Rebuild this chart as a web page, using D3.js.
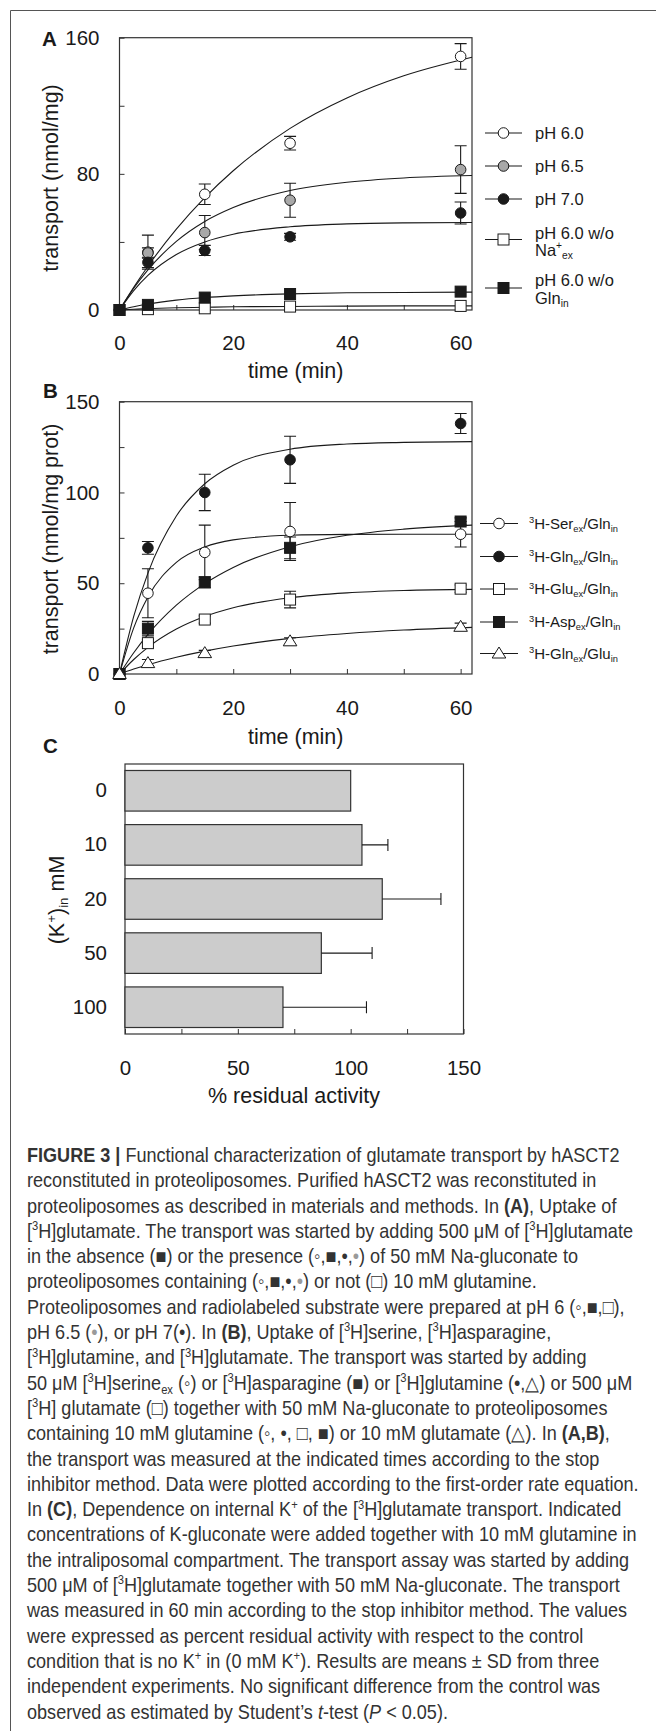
<!DOCTYPE html>
<html>
<head>
<meta charset="utf-8">
<title>Figure 3</title>
<script src="https://cdn.jsdelivr.net/npm/d3@7"></script>
<style>
body{margin:0;background:#fff;}
svg text{font-family:"Liberation Sans",Arial,sans-serif;white-space:pre;}
</style>
</head>
<body>
<script>
// ---- panel A : glutamate uptake at different pH ----
var timeA = [0, 5, 15, 30, 60];
var ph60 = [0, 34, 68, 98, 149];
var ph60Err = [0, 10, 6, 4, 7.5];
var ph65 = [0, 33.5, 45.5, 64.5, 82.5];
var ph65Err = [0, 3, 10, 10, 14];
var ph70 = [0, 28, 35, 43, 57];
var ph70Err = [0, 3, 3, 2, 6.5];
var ph60NoNa = [0, 0.5, 1, 2, 2.4];
var ph60NoGln = [0, 3, 7.3, 9.4, 10.8];

// fitted curves
var fitT = [0, 2.5, 5, 10, 15, 20, 30, 40, 50, 62];
var fitPh60 = [0, 13.3, 25.7, 47.5, 66, 81.8, 106.7, 124.6, 137.6, 148.5];
var fitPh65 = [0, 12.8, 23.6, 40.3, 52, 60.2, 70.2, 75.1, 77.6, 79];
var fitPh70 = [0, 11.4, 20.3, 32.6, 40, 44.5, 48.9, 50.6, 51.2, 51.4];
var fitNoNa = [0, 0.4, 0.8, 1.3, 1.6, 1.9, 2.1, 2.3, 2.4, 2.4];
var fitNoGln = [0, 1.9, 3.5, 5.8, 7.3, 8.3, 9.5, 10.1, 10.3, 10.5];

// ---- panel B : uptake of different substrates ----
var timeB = [0, 5, 15, 30, 60];
var serB = [0, 44.5, 67, 78.5, 77];
var serErr = [0, 13.5, 15, 16, 7];
var glnB = [0, 69.5, 100, 118, 138];
var glnErr = [0, 3.5, 10, 13, 5.5];
var gluB = [0, 17, 30, 41, 47];
var gluErr = [0, 2, 2, 4.6, 2];
var aspB = [0, 25, 50.5, 69.5, 84];
var aspErr = [0, 4, 3, 6, 2];
var glnGluB = [0, 6, 11.5, 18, 26];
var glnGluErr = [0, 2, 1.5, 2, 2];

var fitSer = [0, 25.4, 42.4, 61.5, 70, 73.9, 76.4, 76.9, 77, 77];
var fitGln = [0, 31.7, 55.6, 87, 104.8, 115, 123.8, 126.7, 127.6, 128];
var fitGlu = [0, 8, 14.7, 24.8, 31.7, 36.5, 42, 44.7, 46, 46.6];
var fitAsp = [0, 11.7, 21.8, 37.9, 49.8, 58.7, 70.1, 76.4, 79.8, 82];
var fitGlnGlu = [0, 2.7, 5.1, 9.2, 12.6, 15.4, 19.6, 22.3, 24.2, 25.7];

// ---- panel C : internal K+ ----
var kConc = ["0", "10", "20", "50", "100"];
var residual = [100, 105, 114, 87, 70];
var residualErr = [0, 11.5, 26, 22.5, 37];

var captionLines = [
  "<b>FIGURE 3 |</b> Functional characterization of glutamate transport by hASCT2",
  "reconstituted in proteoliposomes. Purified hASCT2 was reconstituted in",
  "proteoliposomes as described in materials and methods. In <b>(A)</b>, Uptake of",
  "[<sup>3</sup>H]glutamate. The transport was started by adding 500 \u03bcM of [<sup>3</sup>H]glutamate",
  "in the absence (\u25a0) or the presence (\u25e6,\u25a0,\u2022,<g>\u2022</g>) of 50 mM Na-gluconate to",
  "proteoliposomes containing (\u25e6,\u25a0,\u2022,<g>\u2022</g>) or not (\u25a1) 10 mM glutamine.",
  "Proteoliposomes and radiolabeled substrate were prepared at pH 6 (\u25e6,\u25a0,\u25a1),",
  "pH 6.5 (<g>\u2022</g>), or pH 7(\u2022). In <b>(B)</b>, Uptake of [<sup>3</sup>H]serine, [<sup>3</sup>H]asparagine,",
  "[<sup>3</sup>H]glutamine, and [<sup>3</sup>H]glutamate. The transport was started by adding",
  "50 \u03bcM [<sup>3</sup>H]serine<sub>ex</sub> (\u25e6) or [<sup>3</sup>H]asparagine (\u25a0) or [<sup>3</sup>H]glutamine (\u2022,\u25b3) or 500 \u03bcM",
  "[<sup>3</sup>H] glutamate (\u25a1) together with 50 mM Na-gluconate to proteoliposomes",
  "containing 10 mM glutamine (\u25e6, \u2022, \u25a1, \u25a0) or 10 mM glutamate (\u25b3). In <b>(A,B)</b>,",
  "the transport was measured at the indicated times according to the stop",
  "inhibitor method. Data were plotted according to the first-order rate equation.",
  "In <b>(C)</b>, Dependence on internal K<sup>+</sup> of the [<sup>3</sup>H]glutamate transport. Indicated",
  "concentrations of K-gluconate were added together with 10 mM glutamine in",
  "the intraliposomal compartment. The transport assay was started by adding",
  "500 \u03bcM of [<sup>3</sup>H]glutamate together with 50 mM Na-gluconate. The transport",
  "was measured in 60 min according to the stop inhibitor method. The values",
  "were expressed as percent residual activity with respect to the control",
  "condition that is no K<sup>+</sup> in (0 mM K<sup>+</sup>). Results are means \u00b1 SD from three",
  "independent experiments. No significant difference from the control was",
  "observed as estimated by Student\u2019s <i>t</i>-test (<i>P</i> &lt; 0.05)."
];

var W = 656, H = 1731;
var ink = "#1a1a1a";
var svg = d3.select("body").append("svg").attr("width", W).attr("height", H);

// outer frame (left + top)
svg.append("path").attr("d", "M10.5," + H + "V10.5H" + W)
  .attr("fill", "none").attr("stroke", "#555").attr("stroke-width", 1);

// rich text: <b>, <i>, <sup>, <sub>, <g>(grey)
function addRich(text, str, base) {
  str = str.replace(/&lt;/g, "<");
  var parts = str.split(/(<\/?(?:b|i|sup|sub|g)>)/);
  var st = {b: 0, i: 0, sup: 0, sub: 0, g: 0}, cur = 0;
  parts.forEach(function(p) {
    var m = p.match(/^<(\/?)(b|i|sup|sub|g)>$/);
    if (m) { st[m[2]] = m[1] ? 0 : 1; return; }
    if (!p) return;
    var off = st.sup ? -base * 0.38 : (st.sub ? base * 0.2 : 0);
    var ts = text.append("tspan").text(p)
      .attr("dy", off - cur)
      .style("font-size", ((st.sup || st.sub) ? base * 0.62 : base) + "px");
    cur = off;
    if (st.b) ts.style("font-weight", "bold");
    if (st.i) ts.style("font-style", "italic");
    if (st.g) ts.style("fill", "#9a9a9a");
  });
  return text;
}

function marker(g, type, cx, cy) {
  var fill = {oc: "#fff", gc: "#a8a8a8", fc: ink, os: "#fff", fs: ink, ot: "#fff"}[type];
  if (type == "oc" || type == "gc" || type == "fc") {
    g.append("circle").attr("cx", cx).attr("cy", cy).attr("r", 5.3)
      .attr("fill", fill).attr("stroke", ink).attr("stroke-width", 1);
  } else if (type == "os" || type == "fs") {
    g.append("rect").attr("x", cx - 5.5).attr("y", cy - 5.5).attr("width", 11).attr("height", 11)
      .attr("fill", fill).attr("stroke", ink).attr("stroke-width", 1);
  } else {
    g.append("path").attr("d", "M" + cx + "," + (cy - 6.5) + "L" + (cx + 6.8) + "," + (cy + 4.5) + "L" + (cx - 6.8) + "," + (cy + 4.5) + "Z")
      .attr("fill", fill).attr("stroke", ink).attr("stroke-width", 1);
  }
}

var xT = d3.scaleLinear().domain([0, 62]).range([119.5, 472]);

function timePanel(y, yTicks, yLabels, series, legendX, labelPad) {
  var g = svg.append("g");
  var top = y.range()[1], bot = y.range()[0];
  g.append("rect").attr("x", xT.range()[0]).attr("y", top)
    .attr("width", xT.range()[1] - xT.range()[0]).attr("height", bot - top)
    .attr("fill", "none").attr("stroke", "#333").attr("stroke-width", 1.2);

  var ay = g.append("g").attr("transform", "translate(" + xT.range()[0] + ",0)")
    .call(d3.axisLeft(y).tickValues(yTicks).tickSize(-5).tickPadding(20)
      .tickFormat(function(d) { return yLabels.indexOf(d) >= 0 ? d : ""; }));
  var ax = g.append("g").attr("transform", "translate(0," + bot + ")")
    .call(d3.axisBottom(xT).tickValues([0, 10, 20, 30, 40, 50, 60]).tickSize(-5).tickPadding(labelPad)
      .tickFormat(function(d) { return d % 20 == 0 ? d : ""; }));
  [ax, ay].forEach(function(a) {
    a.select(".domain").remove();
    a.selectAll("line").attr("stroke", "#333");
    a.selectAll("text").style("font-size", "20.5px").attr("fill", ink).style("font-family", "Liberation Sans, Arial, sans-serif");
  });

  var line = d3.line().x(function(d) { return xT(d[0]); }).y(function(d) { return y(d[1]); })
    .curve(d3.curveMonotoneX);
  series.forEach(function(s) {
    g.append("path").datum(fitT.map(function(t, i) { return [t, s.fit[i]]; }))
      .attr("d", line).attr("fill", "none").attr("stroke", ink).attr("stroke-width", 1.1);
  });
  series.forEach(function(s) {
    s.t.forEach(function(t, i) {
      var e = s.err[i];
      if (!e) return;
      var cx = xT(t), y1 = y(s.vals[i] + e), y2 = y(s.vals[i] - e);
      g.append("path").attr("d", "M" + cx + "," + y1 + "V" + y2 + "M" + (cx - 6) + "," + y1 + "H" + (cx + 6) + "M" + (cx - 6) + "," + y2 + "H" + (cx + 6))
        .attr("stroke", ink).attr("stroke-width", 1.1).attr("fill", "none");
    });
  });
  series.forEach(function(s) {
    s.t.forEach(function(t, i) { marker(g, s.mk, xT(t), y(s.vals[i])); });
  });

  // legend
  series.forEach(function(s) {
    var lg = g.append("g");
    lg.append("line").attr("x1", legendX[0]).attr("x2", legendX[1]).attr("y1", s.ly).attr("y2", s.ly)
      .attr("stroke", ink).attr("stroke-width", 1.1);
    marker(lg, s.mk, (legendX[0] + legendX[1]) / 2, s.ly);
    s.label.forEach(function(txt, j) {
      var t = lg.append("text").attr("x", legendX[2]).attr("y", s.ly + s.lyOff[j]).attr("fill", ink);
      addRich(t, txt, s.fs);
    });
  });
  return g;
}

// panel A
var yA = d3.scaleLinear().domain([0, 160]).range([310, 37.7]);
timePanel(yA, [0, 40, 80, 120, 160], [0, 80, 160], [
  {t: timeA, vals: ph60, err: ph60Err, fit: fitPh60, mk: "oc", ly: 133, label: ["pH 6.0"], lyOff: [6], fs: 16.5},
  {t: timeA, vals: ph65, err: ph65Err, fit: fitPh65, mk: "gc", ly: 166, label: ["pH 6.5"], lyOff: [6], fs: 16.5},
  {t: timeA, vals: ph70, err: ph70Err, fit: fitPh70, mk: "fc", ly: 199, label: ["pH 7.0"], lyOff: [6], fs: 16.5},
  {t: timeA, vals: ph60NoNa, err: [0, 0, 0, 0, 0], fit: fitNoNa, mk: "os", ly: 239.5, label: ["pH 6.0 w/o", "Na<sup>+</sup><sub>ex</sub>"], lyOff: [-0.5, 16], fs: 16.5},
  {t: timeA, vals: ph60NoGln, err: [0, 0, 0, 0, 0], fit: fitNoGln, mk: "fs", ly: 288, label: ["pH 6.0 w/o", "Gln<sub>in</sub>"], lyOff: [-2, 15.5], fs: 16.5}
], [485, 522, 535], 25.5);

// panel B
var yB = d3.scaleLinear().domain([0, 150]).range([674, 401.7]);
timePanel(yB, [0, 25, 50, 75, 100, 125, 150], [0, 50, 100, 150], [
  {t: timeB, vals: serB, err: serErr, fit: fitSer, mk: "oc", ly: 523.5, label: ["<sup>3</sup>H-Ser<sub>ex</sub>/Gln<sub>in</sub>"], lyOff: [5.3], fs: 15},
  {t: timeB, vals: glnB, err: glnErr, fit: fitGln, mk: "fc", ly: 556.5, label: ["<sup>3</sup>H-Gln<sub>ex</sub>/Gln<sub>in</sub>"], lyOff: [5.3], fs: 15},
  {t: timeB, vals: gluB, err: gluErr, fit: fitGlu, mk: "os", ly: 589, label: ["<sup>3</sup>H-Glu<sub>ex</sub>/Gln<sub>in</sub>"], lyOff: [5.3], fs: 15},
  {t: timeB, vals: aspB, err: aspErr, fit: fitAsp, mk: "fs", ly: 622, label: ["<sup>3</sup>H-Asp<sub>ex</sub>/Gln<sub>in</sub>"], lyOff: [5.3], fs: 15},
  {t: timeB, vals: glnGluB, err: glnGluErr, fit: fitGlnGlu, mk: "ot", ly: 653.5, label: ["<sup>3</sup>H-Gln<sub>ex</sub>/Glu<sub>in</sub>"], lyOff: [5.3], fs: 15}
], [480, 518, 529], 26.5);

// panel letters and axis titles
function label(x, y, txt, opts) {
  var t = svg.append("text").attr("x", x).attr("y", y).attr("fill", ink)
    .style("font-size", (opts.size || 21.5) + "px");
  if (opts.bold) t.style("font-weight", "bold");
  if (opts.anchor) t.attr("text-anchor", opts.anchor);
  if (opts.rot) t.attr("transform", "rotate(-90," + x + "," + y + ")");
  addRich(t, txt, opts.size || 21.5);
  return t;
}
label(42, 45.5, "A", {bold: 1, size: 20.5});
label(43, 397.5, "B", {bold: 1, size: 20.5});
label(43, 752.5, "C", {bold: 1, size: 20.5});
label(295.7, 377.5, "time (min)", {anchor: "middle"});
label(295.7, 743.5, "time (min)", {anchor: "middle"});
label(58, 178, "transport (nmol/mg)", {anchor: "middle", rot: 1});
label(57.5, 539, "transport (nmol/mg prot)", {anchor: "middle", rot: 1});

// panel C
var xC = d3.scaleLinear().domain([0, 150]).range([125, 463.5]);
var yC = d3.scaleBand().domain(kConc).range([764, 1034]).paddingInner(0.25).paddingOuter(0.12);
var gc = svg.append("g");
gc.append("rect").attr("x", 125).attr("y", 764).attr("width", xC(150) - xC(0)).attr("height", 270)
  .attr("fill", "none").attr("stroke", "#333").attr("stroke-width", 1.2);
gc.selectAll(".bar").data(kConc).enter().append("rect")
  .attr("x", xC(0)).attr("y", function(d) { return yC(d); })
  .attr("width", function(d, i) { return xC(residual[i]) - xC(0); })
  .attr("height", yC.bandwidth())
  .attr("fill", "#cccccc").attr("stroke", "#333").attr("stroke-width", 1.2);
gc.selectAll(".err").data(kConc).enter().append("path")
  .attr("d", function(d, i) {
    if (!residualErr[i]) return null;
    var cy = yC(d) + yC.bandwidth() / 2, x1 = xC(residual[i]), x2 = xC(residual[i] + residualErr[i]);
    return "M" + x1 + "," + cy + "H" + x2 + "M" + x2 + "," + (cy - 6) + "V" + (cy + 6);
  })
  .attr("fill", "none").attr("stroke", ink).attr("stroke-width", 1.1);
var axC = gc.append("g").attr("transform", "translate(0,1034)")
  .call(d3.axisBottom(xC).tickValues([0, 25, 50, 75, 100, 125, 150]).tickSize(-5).tickPadding(26.5)
    .tickFormat(function(d) { return d % 50 == 0 ? d : ""; }));
var ayC = gc.append("g").attr("transform", "translate(125,0)")
  .call(d3.axisLeft(yC).tickSize(0).tickPadding(18));
[axC, ayC].forEach(function(a) {
  a.select(".domain").remove();
  a.selectAll("line").attr("stroke", "#333");
  a.selectAll("text").style("font-size", "20.5px").attr("fill", ink).style("font-family", "Liberation Sans, Arial, sans-serif");
});
label(294, 1102.5, "% residual activity", {anchor: "middle"});
label(64, 900, "(K<sup>+</sup>)<sub>in</sub> mM", {anchor: "middle", rot: 1});

// caption
var cap = svg.append("g");
var capLines = captionLines.map(function(str, i) {
  var t = cap.append("text").attr("x", 0).attr("y", 1162 + i * 25.3).attr("fill", "#333");
  return addRich(t, str, 20);
});
var w1 = capLines[0].node().getComputedTextLength();
cap.attr("transform", "translate(27,0) scale(" + (593 / w1) + ",1)");
</script>
</body>
</html>
